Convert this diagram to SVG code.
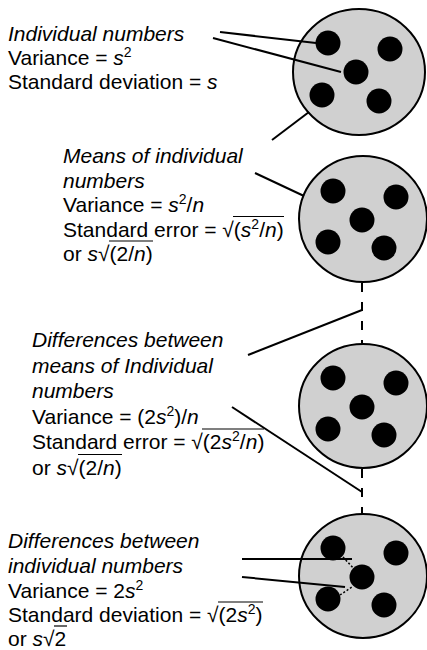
<svg xmlns="http://www.w3.org/2000/svg" width="427" height="650" viewBox="0 0 427 650">
<style>
.bg{fill:#ffffff}
.disc{fill:#d0d0d0;stroke:#000;stroke-width:2}
.dot{fill:#000}
.t{font-family:"Liberation Sans",Arial,sans-serif;font-size:21px;fill:#000}
.it{font-style:italic}
.sup{font-size:14px}
.conn{stroke:#000;stroke-width:2;fill:none}
.dash{stroke:#000;stroke-width:2;fill:none;stroke-dasharray:9 10}
.fine{stroke:#000;stroke-width:1.5;fill:none;stroke-dasharray:2 2}
.vin{stroke:#000;stroke-width:1.2}
</style>
<rect class="bg" x="0" y="0" width="427" height="650"/>

<g id="circle-individual">
  <ellipse class="disc" cx="359" cy="72" rx="66" ry="63"/>
  <circle class="dot" cx="328" cy="43" r="12.5"/>
  <circle class="dot" cx="390" cy="49" r="12.5"/>
  <circle class="dot" cx="356" cy="72" r="12.5"/>
  <circle class="dot" cx="322" cy="95" r="12.5"/>
  <circle class="dot" cx="379" cy="101" r="12.5"/>
</g>

<g id="circle-means">
  <ellipse class="disc" cx="363" cy="219" rx="64" ry="63"/>
  <circle class="dot" cx="333" cy="191" r="12.5"/>
  <circle class="dot" cx="396" cy="197" r="12.5"/>
  <circle class="dot" cx="362" cy="220" r="12.5"/>
  <circle class="dot" cx="328" cy="242" r="12.5"/>
  <circle class="dot" cx="384" cy="248" r="12.5"/>
</g>

<g id="circle-diff-means">
  <ellipse class="disc" cx="363" cy="406" rx="64" ry="62"/>
  <circle class="dot" cx="333" cy="378" r="12.5"/>
  <circle class="dot" cx="396" cy="383" r="12.5"/>
  <circle class="dot" cx="362" cy="407" r="12.5"/>
  <circle class="dot" cx="328" cy="429" r="12.5"/>
  <circle class="dot" cx="384" cy="435" r="12.5"/>
</g>

<g id="circle-diff-individual">
  <ellipse class="disc" cx="363" cy="576" rx="64" ry="62"/>
  <circle class="dot" cx="333" cy="548" r="12.5"/>
  <circle class="dot" cx="396" cy="553" r="12.5"/>
  <circle class="dot" cx="362" cy="577" r="12.5"/>
  <circle class="dot" cx="328" cy="599" r="12.5"/>
  <circle class="dot" cx="384" cy="605" r="12.5"/>
</g>

<g id="connectors">
  <line class="conn" x1="220" y1="32" x2="316" y2="43"/>
  <line class="conn" x1="213" y1="38" x2="341" y2="72"/>
  <line class="conn" x1="272" y1="140" x2="309" y2="112"/>
  <line class="conn" x1="255" y1="173" x2="304" y2="196"/>
  <line class="dash" x1="362" y1="283" x2="362" y2="344"/>
  <line class="conn" x1="248" y1="355" x2="362" y2="310"/>
  <line class="dash" x1="362" y1="469" x2="362" y2="514"/>
  <line class="conn" x1="232" y1="407" x2="362" y2="492"/>
  <line class="conn" x1="242" y1="559" x2="352" y2="559"/>
  <line class="conn" x1="242" y1="577" x2="345" y2="587"/>
  <line class="fine" x1="343" y1="557" x2="355" y2="570"/>
  <line class="fine" x1="340" y1="595" x2="352" y2="587"/>
</g>

<g id="label-individual">
  <text class="t it" x="8" y="41">Individual numbers</text>
  <text class="t" x="8" y="65">Variance = <tspan class="it">s</tspan><tspan class="sup" dy="-8">2</tspan></text>
  <text class="t" x="8" y="89">Standard deviation = <tspan class="it">s</tspan></text>
</g>

<g id="label-means">
  <text class="t it" x="63" y="163">Means of individual</text>
  <text class="t it" x="63" y="187.5">numbers</text>
  <text class="t" x="63" y="212">Variance = <tspan class="it">s</tspan><tspan class="sup" dy="-8">2</tspan><tspan dy="8">/</tspan><tspan class="it">n</tspan></text>
  <text class="t" x="63" y="236.5">Standard error = √(<tspan class="it">s</tspan><tspan class="sup" dy="-8">2</tspan><tspan dy="8">/</tspan><tspan class="it">n</tspan>)</text>
  <line class="vin" x1="233" y1="216.5" x2="284" y2="216.5"/>
  <text class="t" x="63" y="261">or <tspan class="it">s</tspan>√(2/<tspan class="it">n</tspan>)</text>
  <line class="vin" x1="109" y1="241" x2="153" y2="241"/>
</g>

<g id="label-diff-means">
  <text class="t it" x="32" y="347">Differences between</text>
  <text class="t it" x="32" y="372.5">means of Individual</text>
  <text class="t it" x="32" y="398">numbers</text>
  <text class="t" x="32" y="423.5">Variance = (2<tspan class="it">s</tspan><tspan class="sup" dy="-8">2</tspan><tspan dy="8">)/</tspan><tspan class="it">n</tspan></text>
  <text class="t" x="32" y="449">Standard error = √(2<tspan class="it">s</tspan><tspan class="sup" dy="-8">2</tspan><tspan dy="8">/</tspan><tspan class="it">n</tspan>)</text>
  <line class="vin" x1="202" y1="429" x2="264" y2="429"/>
  <text class="t" x="32" y="474.5">or <tspan class="it">s</tspan>√(2/<tspan class="it">n</tspan>)</text>
  <line class="vin" x1="78" y1="454.5" x2="122" y2="454.5"/>
</g>

<g id="label-diff-individual">
  <text class="t it" x="8" y="548">Differences between</text>
  <text class="t it" x="8" y="573">individual numbers</text>
  <text class="t" x="8" y="598">Variance = 2<tspan class="it">s</tspan><tspan class="sup" dy="-8">2</tspan></text>
  <text class="t" x="8" y="622">Standard deviation = √(2<tspan class="it">s</tspan><tspan class="sup" dy="-8">2</tspan><tspan dy="8">)</tspan></text>
  <line class="vin" x1="218" y1="602" x2="263" y2="602"/>
  <text class="t" x="8" y="646">or <tspan class="it">s</tspan>√2</text>
  <line class="vin" x1="54" y1="626" x2="67" y2="626"/>
</g>
</svg>
